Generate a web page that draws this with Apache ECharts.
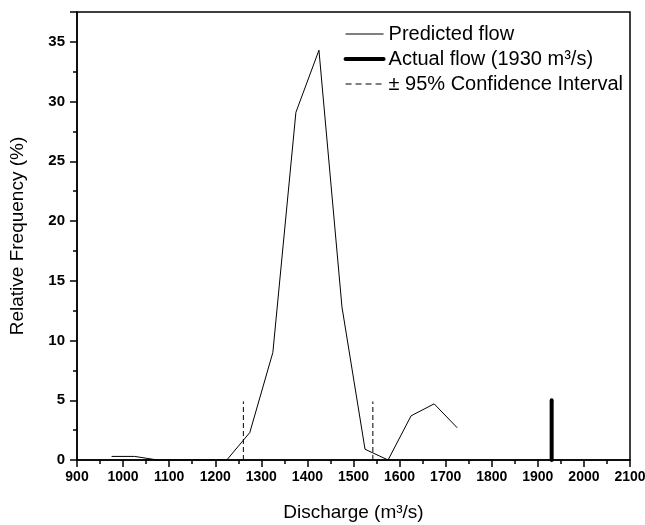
<!DOCTYPE html>
<html>
<head>
<meta charset="utf-8">
<script src="https://cdn.jsdelivr.net/npm/echarts@6/dist/echarts.min.js"></script>
<style>
  html, body { margin: 0; padding: 0; background: #fff; }
  #main { width: 645px; height: 525px; }
</style>
</head>
<body>
<div id="main"></div>
<script>
// discharge classes (m3/s) and relative frequency (%)
var predX = [975, 1025, 1075, 1125, 1175, 1225, 1275, 1325, 1375, 1425, 1475, 1525, 1575, 1625, 1675, 1725];
var predY = [0.3, 0.3, 0, 0, 0, 0, 2.3, 9, 29.1, 34.3, 12.8, 0.9, 0, 3.7, 4.7, 2.7];
// 95% confidence bounds
var ciX = [1261, 1542];
var ciHeight = 4.9;
// actual flow
var actualX = 1930;
var actualHeight = 5.0;

var font = 'Liberation Sans, Arial, sans-serif';
var predName = 'Predicted flow';
var actName = 'Actual flow (1930 m³/s)';
var ciName = '± 95% Confidence Interval';

var chart = echarts.init(document.getElementById('main'));

var series = [{
  name: predName,
  type: 'line',
  symbol: 'none',
  data: predX.map(function (x, i) { return [x, predY[i]]; }),
  lineStyle: { color: '#000', width: 1 },
  itemStyle: { color: '#000' },
  z: 3
}, {
  name: actName,
  type: 'line',
  symbol: 'none',
  data: [[actualX, 0], [actualX, actualHeight]],
  lineStyle: { color: '#000', width: 4, cap: 'round' },
  itemStyle: { color: '#000' },
  z: 4
}];
ciX.forEach(function (x) {
  series.push({
    name: ciName,
    type: 'line',
    symbol: 'none',
    data: [[x, 0], [x, ciHeight]],
    lineStyle: { color: '#000', width: 1, type: [5, 3] },
    itemStyle: { color: '#000' },
    z: 2
  });
});

var axisFont = { fontFamily: font, fontWeight: 'bold', color: '#000' };
var nameFont = { fontFamily: font, fontSize: 19, color: '#000' };

var option = {
  animation: false,
  backgroundColor: '#fff',
  grid: {
    left: 77, right: 15, top: 12, bottom: 65,
    outerBoundsMode: 'none',
    show: true, borderColor: '#000', borderWidth: 1.5
  },
  legend: {
    orient: 'vertical',
    right: 17, top: 19,
    itemWidth: 38, itemHeight: 10, itemGap: 5,
    itemStyle: { opacity: 0 },
    textStyle: { fontFamily: font, fontSize: 20, color: '#000' },
    data: [
      { name: predName, lineStyle: { width: 1 } },
      { name: actName, lineStyle: { width: 4 } },
      { name: ciName, lineStyle: { width: 1, type: [6, 4] } }
    ]
  },
  xAxis: {
    type: 'value',
    min: 900, max: 2100, interval: 100,
    name: 'Discharge (m³/s)',
    nameLocation: 'middle', nameGap: 43,
    nameTextStyle: nameFont,
    axisLine: { lineStyle: { color: '#000', width: 1.5 } },
    axisTick: { inside: false, length: 7, lineStyle: { color: '#000', width: 1.5 } },
    minorTick: { show: true, splitNumber: 2, length: 4, lineStyle: { color: '#000', width: 1.5 } },
    axisLabel: Object.assign({ fontSize: 14, margin: 10, formatter: function (v) { return String(v); } }, axisFont),
    splitLine: { show: false }
  },
  yAxis: {
    type: 'value',
    min: 0, max: 37.5, interval: 5,
    name: 'Relative Frequency (%)',
    nameLocation: 'middle', nameGap: 50, nameRotate: 90,
    nameTextStyle: nameFont,
    axisLine: { lineStyle: { color: '#000', width: 1.5 } },
    axisTick: { inside: false, length: 7, lineStyle: { color: '#000', width: 1.5 } },
    minorTick: { show: true, splitNumber: 2, length: 4, lineStyle: { color: '#000', width: 1.5 } },
    axisLabel: Object.assign({
      fontSize: 15, margin: 12,
      formatter: function (v) { return v % 5 === 0 ? String(v) : ''; }
    }, axisFont),
    splitLine: { show: false }
  },
  series: series
};

chart.setOption(option);
</script>
</body>
</html>
